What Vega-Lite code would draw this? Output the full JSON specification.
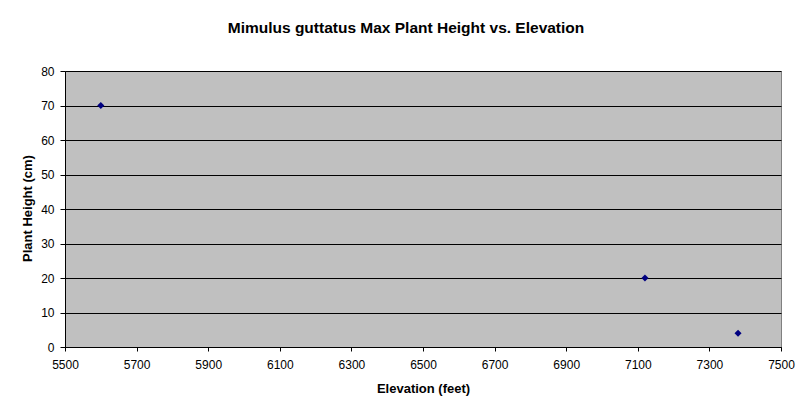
{
  "$schema": "https://vega.github.io/schema/vega-lite/v6.json",
  "autosize": {"type": "none"},
  "width": 716,
  "height": 276,
  "padding": {"left": 65, "top": 71, "right": 31, "bottom": 70},
  "background": "white",
  "title": {
    "text": "Mimulus guttatus Max Plant Height vs. Elevation",
    "font": "Liberation Sans",
    "fontSize": 15.5,
    "fontWeight": "bold",
    "color": "black",
    "anchor": "middle",
    "baseline": "alphabetic",
    "offset": 38,
    "dx": -17,
    "dy": 21
  },
  "data": {
    "values": [
      {"elevation": 5600, "height": 70},
      {"elevation": 7120, "height": 20},
      {"elevation": 7380, "height": 4}
    ]
  },
  "mark": {"type": "point", "shape": "diamond", "filled": true, "size": 50, "color": "#000080", "opacity": 1},
  "encoding": {
    "x": {
      "field": "elevation",
      "type": "quantitative",
      "title": "Elevation (feet)",
      "scale": {"domain": [5500, 7500], "nice": false, "zero": false},
      "axis": {
        "values": [5500, 5700, 5900, 6100, 6300, 6500, 6700, 6900, 7100, 7300, 7500],
        "format": "d",
        "grid": false,
        "labelFlush": false,
        "tickSize": 4,
        "labelPadding": 8,
        "titleY": 45.5,
        "titleBaseline": "alphabetic"
      }
    },
    "y": {
      "field": "height",
      "type": "quantitative",
      "title": "Plant Height (cm)",
      "scale": {"domain": [0, 80], "nice": false},
      "axis": {
        "values": [0, 10, 20, 30, 40, 50, 60, 70, 80],
        "grid": true,
        "gridColor": "black",
        "gridOpacity": 1,
        "gridWidth": 1,
        "labelFlush": false,
        "tickSize": 5,
        "labelPadding": 6,
        "titleX": -34,
        "titleY": 137,
        "titleBaseline": "alphabetic",
        "titleAngle": -90
      }
    }
  },
  "config": {
    "view": {"fill": "#C0C0C0", "stroke": "#808080", "strokeWidth": 1},
    "axis": {
      "domainColor": "black",
      "domainWidth": 1,
      "tickColor": "black",
      "tickWidth": 1,
      "labelFont": "Liberation Sans",
      "labelFontSize": 12,
      "labelColor": "black",
      "titleFont": "Liberation Sans",
      "titleFontSize": 13,
      "titleFontWeight": "bold",
      "titleColor": "black"
    }
  }
}
